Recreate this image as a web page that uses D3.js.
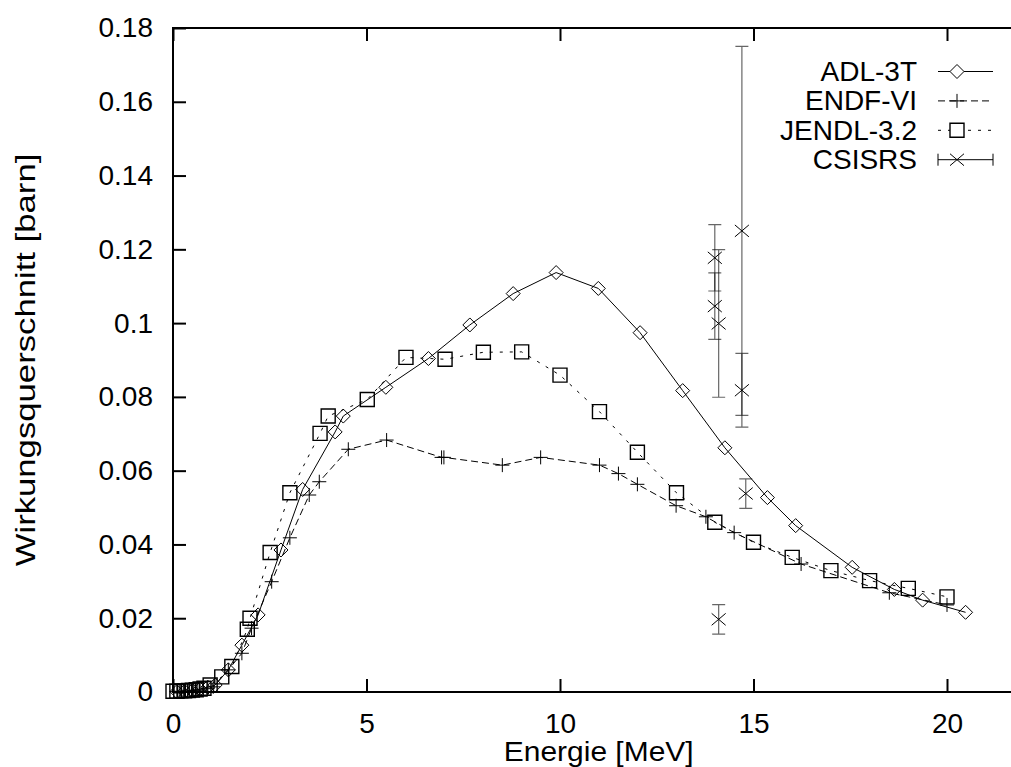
<!DOCTYPE html>
<html>
<head>
<meta charset="utf-8">
<script src="https://cdn.jsdelivr.net/npm/d3@7"></script>
<style>
  body { margin: 0; background: #fff; }
  text { font-family: "Liberation Sans", Arial, sans-serif; fill: #000; }
</style>
</head>
<body>
<div id="chart"></div>
<script>
// ADL-3T  [energy MeV, cross section barn]
var adl = [[0.1,0.0001],[0.3,0.0002],[0.5,0.0004],[0.7,0.0008],[0.9,0.0013],[1.09,0.0019],
  [1.43,0.006],[1.78,0.0127],[2.2,0.0209],[2.79,0.0385],[3.35,0.0549],[4.19,0.0705],[4.4,0.0748],
  [5.5,0.0826],[6.6,0.0904],[7.67,0.0995],[8.79,0.108],[9.9,0.1137],[10.99,0.1094],[12.07,0.0974],
  [13.17,0.0817],[14.26,0.0662],[15.36,0.0527],[16.09,0.0451],[17.55,0.0338],[18.64,0.0278],
  [19.37,0.0249],[20.48,0.0216]]

var endf = [[0.1,0.0001],[0.3,0.0002],[0.5,0.0003],[0.7,0.0005],[0.9,0.0009],[1.04,0.0014],
  [1.43,0.006],[1.78,0.0105],[2.03,0.0173],[2.55,0.0299],[3.02,0.0418],[3.52,0.0534],[3.78,0.057],
  [4.53,0.0658],[5.52,0.0683],[6.94,0.0636],[7.0,0.0636],[8.51,0.0615],[9.5,0.0636],[11.02,0.0615],
  [11.51,0.0592],[12.0,0.0563],[13.0,0.0505],[13.77,0.0475],[14.5,0.0432],[16.23,0.0347],
  [18.51,0.0269],[20.0,0.0236]]

var jendl = [[0.0,0.0002],[0.1,0.0002],[0.2,0.0003],[0.3,0.0003],[0.4,0.0004],[0.5,0.0005],
  [0.6,0.0006],[0.7,0.0008],[0.8,0.001],[0.96,0.0019],[1.26,0.0041],[1.52,0.0069],[1.92,0.017],
  [1.99,0.02],[2.51,0.0378],[3.02,0.054],[3.8,0.0701],[4.01,0.0748],[5.02,0.0793],[6.02,0.0907],
  [7.03,0.0902],[8.02,0.0921],[9.01,0.0922],[10.0,0.0859],[11.02,0.076],[12.0,0.065],[13.01,0.054],
  [14.0,0.046],[15.0,0.0406],[16.0,0.0365],[17.0,0.0329],[18.0,0.0302],[19.0,0.0281],[20.0,0.0258]]

// CSISRS [energy, value, error]
var csisrs = [[14.0,0.1177,0.009],[14.0,0.1046,0.009],[14.1,0.0999,0.02],[14.7,0.125,0.05],
  [14.7,0.0818,0.01],[14.8,0.0538,0.004],[14.1,0.0197,0.004]]

var xTicks = [0,5,10,15,20]
var yTicks = [0,0.02,0.04,0.06,0.08,0.1,0.12,0.14,0.16,0.18]
var legendNames = ['ADL-3T','ENDF-VI','JENDL-3.2','CSISRS']

var W = 1011, H = 767
var svg = d3.select("#chart").append("svg")
  .attr("width", W).attr("height", H)
svg.append("rect").attr("width", W).attr("height", H).attr("fill", "#fff")

var x = d3.scaleLinear().domain([0,22]).range([173, 1024.4])
var y = d3.scaleLinear().domain([0,0.18]).range([692, 28])

// frame
svg.append("rect")
  .attr("x", x(0)).attr("y", y(0.18))
  .attr("width", x(22)-x(0)).attr("height", y(0)-y(0.18))
  .attr("fill", "none").attr("stroke", "#000").attr("stroke-width", 2)

var fmt = d3.format("~g")
var gl = svg.append("g").attr("transform", "translate(" + x(0) + ",0)")
  .call(d3.axisLeft(y).tickValues(yTicks).tickFormat(fmt).tickSize(-13).tickPadding(20))
var gr = svg.append("g").attr("transform", "translate(" + x(22) + ",0)")
  .call(d3.axisRight(y).tickValues(yTicks).tickFormat("").tickSize(-13))
var gb = svg.append("g").attr("transform", "translate(0," + y(0) + ")")
  .call(d3.axisBottom(x).tickValues(xTicks).tickSize(-13).tickPadding(21))
var gt = svg.append("g").attr("transform", "translate(0," + y(0.18) + ")")
  .call(d3.axisTop(x).tickValues(xTicks).tickFormat("").tickSize(-13))

;[gl, gr, gb, gt].forEach(function (g) {
  g.select(".domain").remove()
  g.selectAll("line").attr("stroke", "#000").attr("stroke-width", 2)
  g.selectAll("text").style("font-size", "28px").style("font-family", "Liberation Sans, Arial, sans-serif")
})

svg.append("text")
  .attr("transform", "translate(" + (x(0)+x(22))/2 + ",761) scale(1.07,1)")
  .attr("text-anchor", "middle").style("font-size", "28px")
  .text("Energie [MeV]")

svg.append("text")
  .attr("transform", "translate(35," + (y(0)+y(0.18))/2 + ") rotate(-90) scale(1.24,1)")
  .attr("text-anchor", "middle").style("font-size", "28px")
  .text("Wirkungsquerschnitt [barn]")

function marker(type, s) {
  if (type == 'diamond') return "M0," + (-s) + "L" + s + ",0L0," + s + "L" + (-s) + ",0Z"
  if (type == 'square') return "M" + (-s) + "," + (-s) + "h" + 2*s + "v" + 2*s + "h" + (-2*s) + "Z"
  if (type == 'plus') return "M" + (-s) + ",0h" + 2*s + "M0," + (-s) + "v" + 2*s
  return "M" + (-s) + "," + (-s*0.85) + "L" + s + "," + (s*0.85) + "M" + (-s) + "," + (s*0.85) + "L" + s + "," + (-s*0.85)
}

var series = [
  {data: adl, type: 'diamond', dash: null, size: 7},
  {data: endf, type: 'plus', dash: "7,4", size: 7},
  {data: jendl, type: 'square', dash: "3,7", size: 7}
]

var line = d3.line().x(d => x(d[0])).y(d => y(d[1]))

series.forEach(function (s) {
  svg.append("path").datum(s.data)
    .attr("d", line).attr("fill", "none").attr("stroke", "#000").attr("stroke-width", 1)
    .attr("stroke-dasharray", s.dash)
  svg.selectAll(null).data(s.data).enter().append("path")
    .attr("transform", d => "translate(" + x(d[0]) + "," + y(d[1]) + ")")
    .attr("d", marker(s.type, s.size))
    .attr("fill", "none").attr("stroke", "#000").attr("stroke-width", s.type == 'square' ? 1.4 : 1)
})

// CSISRS error bars
var eb = svg.append("g").attr("stroke", "#000").attr("stroke-opacity", 0.6).attr("stroke-width", 1.2)
eb.selectAll(null).data(csisrs).enter().append("path")
  .attr("d", d => "M" + x(d[0]) + "," + y(d[1]+d[2]) + "V" + y(d[1]-d[2]) +
    "M" + (x(d[0])-6.5) + "," + y(d[1]+d[2]) + "h13" +
    "M" + (x(d[0])-6.5) + "," + y(d[1]-d[2]) + "h13")
  .attr("fill", "none")
svg.selectAll(null).data(csisrs).enter().append("path")
  .attr("transform", d => "translate(" + x(d[0]) + "," + y(d[1]) + ")")
  .attr("d", marker('cross', 7))
  .attr("fill", "none").attr("stroke", "#000").attr("stroke-width", 1)

// legend
var legTypes = ['diamond','plus','square','cross']
var legDash = [null, "7,4", "3,7", null]
var leg = svg.append("g")
legendNames.forEach(function (name, i) {
  var by = 81 + i*29.4, ly = by - 9.5
  leg.append("text").attr("x", 917).attr("y", by).attr("text-anchor", "end")
    .style("font-size", "28px").text(name)
  if (i < 3) {
    leg.append("line").attr("x1", 938).attr("x2", 993).attr("y1", ly).attr("y2", ly)
      .attr("stroke", "#000").attr("stroke-width", 1).attr("stroke-dasharray", legDash[i])
  } else {
    leg.append("path").attr("d", "M938," + ly + "H993M938," + (ly-6) + "v12M993," + (ly-6) + "v12")
      .attr("stroke", "#000").attr("stroke-width", 1).attr("fill", "none")
  }
  leg.append("path").attr("transform", "translate(957," + ly + ")")
    .attr("d", marker(legTypes[i], 7))
    .attr("fill", i == 0 || i == 2 ? "#fff" : "none").attr("stroke", "#000")
    .attr("stroke-width", i == 2 ? 1.4 : 1)
})
</script>
</body>
</html>
